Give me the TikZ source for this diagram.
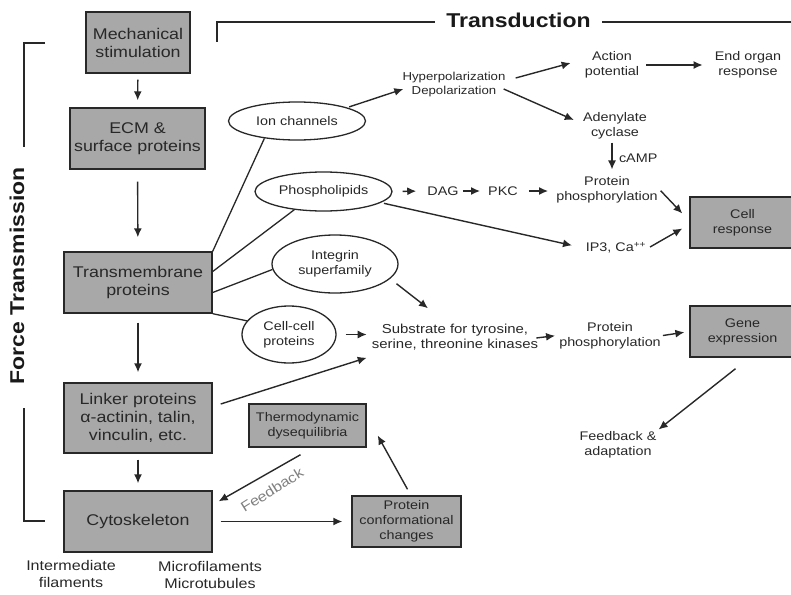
\documentclass[tikz,border=0pt]{standalone}
\usepackage{fontspec}
\setmainfont{Liberation Sans}[FakeStretch=1.15]
\usepackage{tikz}
\usepackage{xcolor}
\usetikzlibrary{arrows.meta,positioning,shapes.geometric}
\definecolor{boxgray}{RGB}{168,168,168}
\definecolor{inkgray}{RGB}{40,40,40}
\newcommand{\boxfont}{\fontsize{15.5}{18}\selectfont}
\newcommand{\lblfont}{\fontsize{12.5}{15}\selectfont}
\newcommand{\tinyfont}{\fontsize{11.5}{14}\selectfont}
\newcommand{\capfont}{\fontsize{14}{17.5}\selectfont}
\newcommand{\headfont}{\bfseries\fontsize{20}{22}\selectfont}

\begin{document}
\begin{tikzpicture}[
    x=1pt,y=-1pt,
    every node/.style={text=inkgray},
    box/.style={rectangle,draw=inkgray,fill=boxgray,line width=1.4pt,
      inner sep=0pt,align=center,font=\boxfont},
    smallbox/.style={box,font=\lblfont},
    oval/.style={ellipse,draw=inkgray,line width=1.3pt,inner sep=0pt,
      align=center,font=\lblfont},
    lbl/.style={align=center,font=\lblfont,inner sep=2pt},
    arrow/.style={-{Latex[length=9pt,width=8pt]},line width=1.4pt,draw=inkgray,
      shorten <=6pt,shorten >=7pt},
    link/.style={line width=1.3pt,draw=inkgray}
  ]
    \useasboundingbox (0,0) rectangle (791,594);

    % force transmission column
    \node[box,minimum width=104pt,minimum height=61pt] (mech) at (138,42.5) {Mechanical\\stimulation};
    \node[box,minimum width=135pt,minimum height=61pt] (ecm) at (137.5,138.5) {ECM \&\\surface proteins};
    \node[box,minimum width=148pt,minimum height=61pt] (tm) at (138,282.5) {Transmembrane\\proteins};
    \node[box,minimum width=148pt,minimum height=70pt] (linker) at (138,418) {Linker proteins\\α-actinin, talin,\\vinculin, etc.};
    \node[box,minimum width=148pt,minimum height=61pt] (cyto) at (138,521.5) {Cytoskeleton};
    \node[smallbox,minimum width=117pt,minimum height=43pt] (thermo) at (307.5,425.5) {Thermodynamic\\dysequilibria};
    \node[smallbox,minimum width=109pt,minimum height=51pt] (conf) at (406.5,521.5) {Protein\\conformational\\changes};
    \node[smallbox,minimum width=105pt,minimum height=51pt] (cell) at (742.5,222.5) {Cell\\response};
    \node[smallbox,minimum width=105pt,minimum height=51pt] (gene) at (742.5,331.5) {Gene\\expression};

    % membrane components
    \node[oval,minimum width=137pt,minimum height=38pt] (ion) at (297,121) {Ion channels};
    \node[oval,minimum width=137pt,minimum height=39pt] (phos) at (323.5,191.5) {Phospholipids};
    \node[oval,minimum width=126pt,minimum height=58pt] (integ) at (335,264) {Integrin\\superfamily};
    \node[oval,minimum width=94pt,minimum height=57pt] (cc) at (289,334.5) {Cell-cell\\proteins};

    % transduction labels
    \node[lbl,font=\tinyfont] (hyp) at (454,85) {Hyperpolarization\\Depolarization};
    \node[lbl] (act) at (612,65) {Action\\potential};
    \node[lbl] (organ) at (748,65) {End organ\\response};
    \node[lbl] (ade) at (615,126) {Adenylate\\cyclase};
    \node[lbl] (pp1) at (607,190) {Protein\\phosphorylation};
    \node[lbl] (dag) at (443,191) {DAG};
    \node[lbl] (pkc) at (503,191) {PKC};
    \node[lbl] (ip3) at (616,248) {IP3, Ca\textsuperscript{++}};
    \node[lbl,font=\fontsize{13}{15}\selectfont] (subs) at (455,337.5) {Substrate for tyrosine,\\serine, threonine kinases};
    \node[lbl] (pp2) at (610,335.5) {Protein\\phosphorylation};
    \node[lbl] (fb) at (618,445) {Feedback \&\\adaptation};
    \node[lbl,font=\capfont] (ifil) at (71,574) {Intermediate\\filaments};
    \node[lbl,font=\capfont] (mfil) at (210,575) {Microfilaments\\Microtubules};

    % headings and brackets
    \node[font=\headfont,text=black!90] (trans) at (518.5,20) {Transduction};
    \node[font=\headfont,text=black!90,rotate=90] (force) at (17,276) {Force Transmission};
    \draw[link] (217,42) |- ([xshift=-8pt,yshift=-2pt]trans.west);
    \draw[link] ([xshift=8pt,yshift=-2pt]trans.east) -- ++(200,0);
    \draw[link] (45,43) -| (24,147);
    \draw[link] (24,408) |- (45,521);

    % main chain
    \draw[arrow] (mech) -- (ecm);
    \draw[arrow,shorten <=12pt,shorten >=14pt] (ecm) -- (tm);
    \draw[arrow,shorten <=9pt,shorten >=10pt] (tm) -- (linker);
    \draw[arrow] (linker) -- (cyto);
    \draw[arrow,shorten <=8pt,shorten >=9pt] (cyto) -- (conf);
    \draw[arrow,shorten <=0pt,shorten >=0pt] ([shift={(1pt,6pt)}]conf.north) -- ([shift={(11pt,-10pt)}]thermo.east);
    \draw[arrow,shorten <=0pt,shorten >=0pt] ([shift={(-7pt,-7pt)}]thermo.south) -- ([shift={(6pt,-11pt)}]cyto.north east);
    \node[lbl,font=\capfont,text=gray,rotate=32] (fblabel) at (272,490) {Feedback};

    % membrane links
    \draw[link] (tm.north east) -- (ion.208);
    \draw[link] ([yshift=11pt]tm.east) -- (phos.212);
    \draw[link] ([yshift=-10pt]tm.east) -- (integ.185);
    \draw[link] (tm.south east) -- (cc.162);

    % ion channel pathway
    \draw[arrow,shorten <=2pt,shorten >=0pt] (ion.15) -- ([shift={(3pt,-4pt)}]hyp.west);
    \draw[arrow,shorten <=0pt,shorten >=0pt] ([shift={(8pt,7pt)}]hyp.east) -- ([shift={(-12pt,2pt)}]act.west);
    \draw[arrow,shorten <=0pt,shorten >=0pt] ([shift={(-4pt,-4pt)}]hyp.east) -- ([shift={(-7pt,6pt)}]ade.west);
    \draw[arrow,shorten <=5pt,shorten >=10pt] (act.east) -- (organ.west);
    \draw[arrow,shorten <=1pt,shorten >=5pt] ([xshift=-3pt]ade.south) -- ([xshift=5pt]pp1.north)
      node[midway,right,font=\lblfont,xshift=3pt] (camp) {cAMP};

    % phospholipid pathway
    \draw[arrow,shorten <=10pt,shorten >=9pt] (phos.east) -- (dag.west);
    \draw[arrow,shorten <=2pt,shorten >=6pt] (dag.east) -- (pkc.west);
    \draw[arrow,shorten <=9pt,shorten >=6pt] (pkc.east) -- (pp1.west |- pkc.east);
    \draw[arrow,shorten <=3pt,shorten >=12pt] (phos.-11) -- (ip3.west);
    \draw[arrow,shorten <=1pt,shorten >=0pt] (pp1.east) -- ([shift={(-7pt,9pt)}]cell.west);
    \draw[arrow,shorten <=2pt,shorten >=0pt] (ip3.east) -- ([shift={(-7pt,-6pt)}]cell.west);

    % kinase pathway
    \draw[arrow,shorten <=0pt,shorten >=0pt] ([shift={(8pt,14pt)}]linker.east) -- ([shift={(-3pt,-5pt)}]subs.south west);
    \draw[arrow,shorten <=9pt,shorten >=3pt] (cc.east) -- (cc.east -| subs.west);
    \draw[arrow,shorten <=8pt,shorten >=0pt] (integ.-15) -- ([shift={(-27pt,14pt)}]subs.north);
    \draw[arrow,shorten <=-4pt,shorten >=2pt] (subs.east) -- (pp2.west);
    \draw[arrow,shorten <=0pt,shorten >=5pt] (pp2.east) -- (gene.west);
    \draw[arrow,shorten <=0pt,shorten >=0pt] ([shift={(-7pt,-11pt)}]gene.south) -- (fb.north east);
  \end{tikzpicture}
\end{document}
